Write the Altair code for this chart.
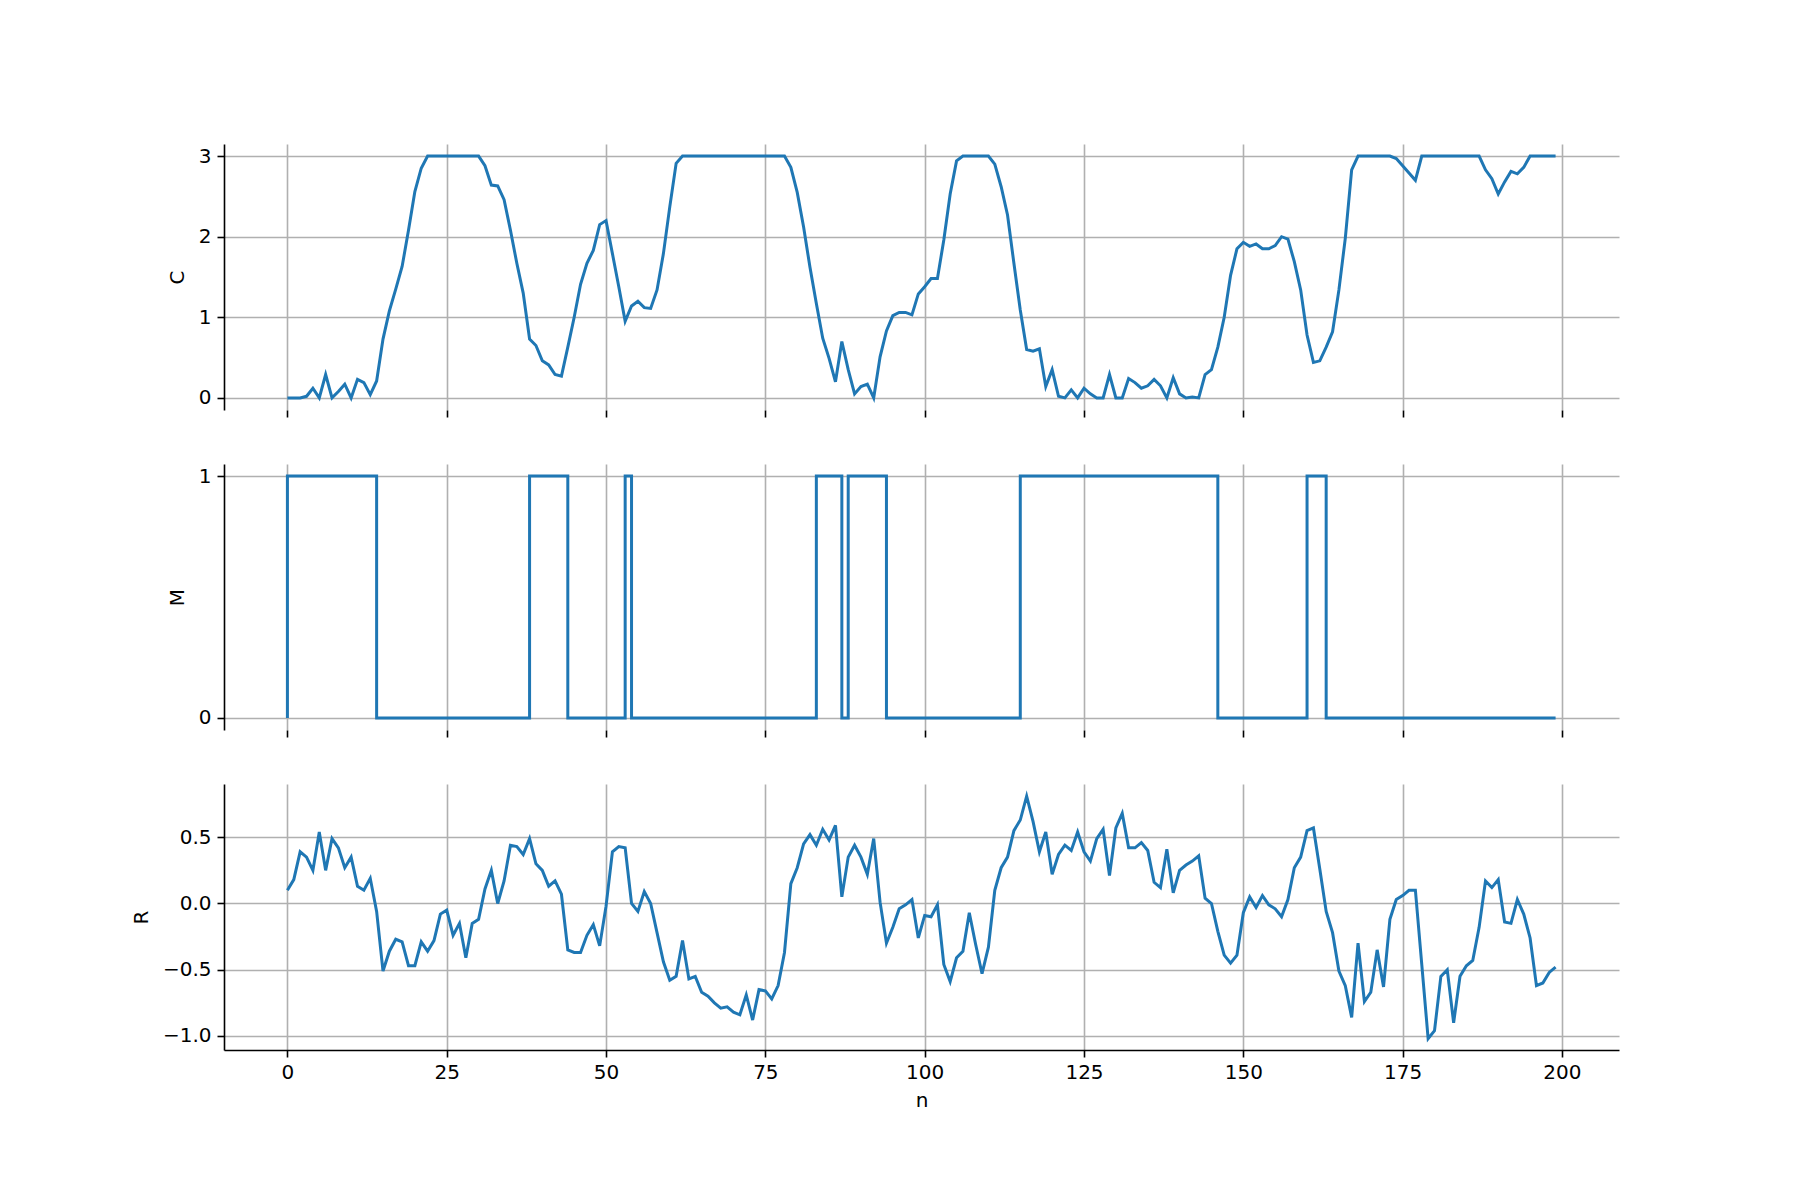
import altair as alt
import pandas as pd

# ---------------- data ----------------
n = list(range(200))

C = [
    0, 0, 0, 0.02, 0.12, 0, 0.29, 0, 0.08, 0.17,
    0, 0.23, 0.19, 0.04, 0.21, 0.73, 1.08, 1.35, 1.63, 2.08,
    2.56, 2.85, 3, 3, 3, 3, 3, 3, 3, 3,
    3, 2.88, 2.64, 2.63, 2.46, 2.08, 1.67, 1.30, 0.73, 0.65,
    0.46, 0.41, 0.29, 0.27, 0.63, 1.0, 1.41, 1.67, 1.83, 2.15,
    2.2, 1.79, 1.38, 0.95, 1.14, 1.2, 1.12, 1.11, 1.34, 1.79,
    2.37, 2.91, 3, 3, 3, 3, 3, 3, 3, 3,
    3, 3, 3, 3, 3, 3, 3, 3, 3, 2.86,
    2.55, 2.12, 1.62, 1.17, 0.74, 0.49, 0.2, 0.70, 0.35, 0.05,
    0.14, 0.17, 0, 0.51, 0.83, 1.02, 1.06, 1.06, 1.03, 1.29,
    1.38, 1.48, 1.48, 1.96, 2.53, 2.94, 3, 3, 3, 3,
    3, 2.9, 2.62, 2.27, 1.67, 1.09, 0.60, 0.58, 0.61, 0.14,
    0.35, 0.02, 0, 0.1, 0, 0.12, 0.05, 0, 0, 0.29,
    0, 0, 0.24, 0.19, 0.12, 0.15, 0.23, 0.15, 0, 0.25,
    0.05, 0, 0.01, 0, 0.29, 0.35, 0.63, 1.0, 1.52, 1.85,
    1.93, 1.88, 1.91, 1.85, 1.85, 1.89, 2.0, 1.97, 1.69, 1.34,
    0.78, 0.44, 0.46, 0.63, 0.82, 1.34, 1.98, 2.83, 3, 3,
    3, 3, 3, 3, 2.97, 2.88, 2.79, 2.7, 3, 3,
    3, 3, 3, 3, 3, 3, 3, 3, 2.83, 2.72,
    2.53, 2.68, 2.81, 2.78, 2.86, 3, 3, 3, 3, 3,
]

M = [
    0, 1, 1, 1, 1, 1, 1, 1, 1, 1,
    1, 1, 1, 1, 1, 0, 0, 0, 0, 0,
    0, 0, 0, 0, 0, 0, 0, 0, 0, 0,
    0, 0, 0, 0, 0, 0, 0, 0, 0, 1,
    1, 1, 1, 1, 1, 0, 0, 0, 0, 0,
    0, 0, 0, 0, 1, 0, 0, 0, 0, 0,
    0, 0, 0, 0, 0, 0, 0, 0, 0, 0,
    0, 0, 0, 0, 0, 0, 0, 0, 0, 0,
    0, 0, 0, 0, 1, 1, 1, 1, 0, 1,
    1, 1, 1, 1, 1, 0, 0, 0, 0, 0,
    0, 0, 0, 0, 0, 0, 0, 0, 0, 0,
    0, 0, 0, 0, 0, 0, 1, 1, 1, 1,
    1, 1, 1, 1, 1, 1, 1, 1, 1, 1,
    1, 1, 1, 1, 1, 1, 1, 1, 1, 1,
    1, 1, 1, 1, 1, 1, 1, 0, 0, 0,
    0, 0, 0, 0, 0, 0, 0, 0, 0, 0,
    0, 1, 1, 1, 0, 0, 0, 0, 0, 0,
    0, 0, 0, 0, 0, 0, 0, 0, 0, 0,
    0, 0, 0, 0, 0, 0, 0, 0, 0, 0,
    0, 0, 0, 0, 0, 0, 0, 0, 0, 0,
]

R = [
    0.10, 0.18, 0.39, 0.35, 0.25, 0.54, 0.25, 0.49, 0.42, 0.27,
    0.35, 0.13, 0.10, 0.19, -0.06, -0.51, -0.36, -0.27, -0.29, -0.47,
    -0.47, -0.29, -0.36, -0.28, -0.08, -0.05, -0.24, -0.15, -0.41, -0.15,
    -0.12, 0.11, 0.25, 0.0, 0.17, 0.44, 0.43, 0.37, 0.49, 0.30,
    0.25, 0.13, 0.17, 0.07, -0.35, -0.37, -0.37, -0.24, -0.16, -0.32,
    -0.02, 0.39, 0.43, 0.42, 0.0, -0.06, 0.09, 0.0, -0.22, -0.44,
    -0.58, -0.55, -0.28, -0.57, -0.55, -0.67, -0.70, -0.75, -0.79, -0.78,
    -0.82, -0.84, -0.69, -0.88, -0.65, -0.66, -0.72, -0.62, -0.37, 0.15,
    0.27, 0.45, 0.52, 0.44, 0.56, 0.48, 0.59, 0.05, 0.35, 0.44,
    0.35, 0.22, 0.49, 0.01, -0.30, -0.18, -0.04, -0.01, 0.03, -0.26,
    -0.09, -0.10, -0.01, -0.46, -0.59, -0.41, -0.36, -0.07, -0.31, -0.53,
    -0.33, 0.10, 0.27, 0.35, 0.55, 0.63, 0.81, 0.62, 0.39, 0.54,
    0.22, 0.37, 0.44, 0.40, 0.54, 0.39, 0.32, 0.49, 0.56, 0.21,
    0.57, 0.68, 0.42, 0.42, 0.46, 0.40, 0.16, 0.12, 0.41, 0.08,
    0.25, 0.29, 0.32, 0.36, 0.04, 0.0, -0.21, -0.39, -0.45, -0.39,
    -0.07, 0.05, -0.03, 0.06, -0.01, -0.04, -0.10, 0.03, 0.27, 0.35,
    0.55, 0.57, 0.26, -0.06, -0.22, -0.51, -0.62, -0.86, -0.30, -0.74,
    -0.67, -0.35, -0.63, -0.12, 0.03, 0.06, 0.10, 0.10, -0.46, -1.02,
    -0.96, -0.55, -0.50, -0.90, -0.55, -0.47, -0.43, -0.18, 0.17, 0.12,
    0.18, -0.14, -0.15, 0.03, -0.08, -0.26, -0.62, -0.60, -0.52, -0.48,
]

x_ticks = [0, 25, 50, 75, 100, 125, 150, 175, 200]
C_ticks = [0, 1, 2, 3]
M_ticks = [0, 1]
R_ticks = [-1.0, -0.5, 0.0, 0.5]

# ---------------- chart ----------------
FONT = "DejaVu Sans"
BLUE = "#1f77b4"
W, H = 1395, 266
SPACING = 54
X_DOMAIN = [-9.95, 208.95]

df = pd.DataFrame({"n": n, "C": C, "M": M, "R": R})


def panel(field, ydomain, yticks, yfmt, bottom, interp="linear"):
    if bottom:
        xaxis = alt.Axis(values=x_ticks, grid=True, title="n", labelPadding=5,
                         titlePadding=8, format="d", labelFlush=False)
    else:
        xaxis = alt.Axis(values=x_ticks, grid=True, title=None, labels=False,
                         domain=False, ticks=True)
    yaxis = alt.Axis(values=yticks, format=yfmt, grid=True, title=field,
                     titlePadding=11)
    return (
        alt.Chart(df)
        .mark_line(color=BLUE, strokeWidth=3, interpolate=interp, clip=True)
        .encode(
            x=alt.X("n:Q", scale=alt.Scale(domain=X_DOMAIN, nice=False, zero=False), axis=xaxis),
            y=alt.Y(f"{field}:Q", scale=alt.Scale(domain=ydomain, nice=False, zero=False), axis=yaxis),
        )
        .properties(width=W, height=H)
    )


p1 = panel("C", [-0.15, 3.15], C_ticks, "d", False)
p2 = panel("M", [-0.05, 1.05], M_ticks, "d", False, interp="step-before")
p3 = panel("R", [-1.106, 0.902], R_ticks, ".1f", True)

# With autosize "none" on a vconcat, the page is padding + width (one panel
# wide) by padding alone in height, so the padding fixes a 1800x1200 page.
LEFT, TOP = 224, 144
chart = (
    alt.vconcat(p1, p2, p3, spacing=SPACING, bounds="flush")
    .properties(
        autosize=alt.AutoSizeParams(type="none"),
        padding={"left": LEFT, "top": TOP,
                 "right": 1800 - LEFT - W,
                 "bottom": 1200 - TOP},
        background="white",
    )
    .configure_view(strokeWidth=0)
    .configure_axis(
        labelFont=FONT,
        titleFont=FONT,
        labelFontSize=20,
        titleFontSize=20,
        titleFontWeight="normal",
        labelColor="#000000",
        titleColor="#000000",
        domainColor="#000000",
        domainWidth=1.6,
        tickColor="#000000",
        tickWidth=1.6,
        tickSize=7,
        labelPadding=6,
        gridColor="#b0b0b0",
        gridWidth=1.6,
    )
)

chart.save("out.html", embed_options={"renderer": "svg", "actions": False})
